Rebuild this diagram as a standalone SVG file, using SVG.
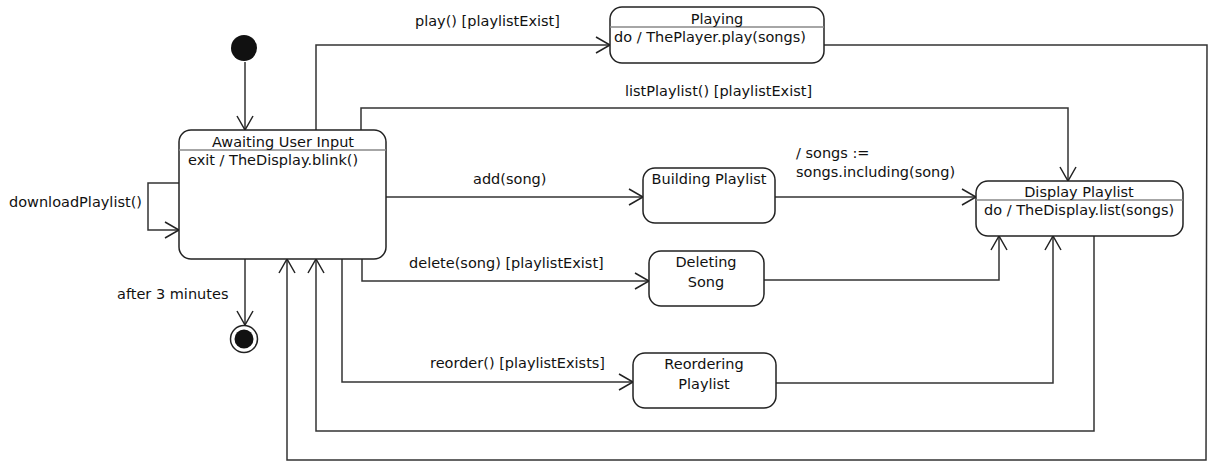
<svg xmlns="http://www.w3.org/2000/svg" width="1210" height="461" viewBox="0 0 1210 461">
<style>
text{font-family:"DejaVu Sans","Noto Sans",sans-serif;font-size:14.5px;fill:#111}
.c{text-anchor:middle}
.box{fill:#fff;stroke:#222;stroke-width:1.5}
.div{stroke:#888;stroke-width:1.5}
.ln{fill:none;stroke:#333;stroke-width:1.5;marker-end:url(#arr)}
</style>
<defs>
<marker id="arr" markerUnits="userSpaceOnUse" markerWidth="18" markerHeight="20" refX="15" refY="9" orient="auto" overflow="visible">
<path d="M1,1 L15,9 L1,17" fill="none" stroke="#222" stroke-width="1.5"/>
</marker>
</defs>
<rect width="1210" height="461" fill="#fff"/>
<g id="connectors">
<path class="ln" d="M245,62 L245,130"/>
<path class="ln" d="M179,183 L148,183 L148,230 L179,230"/>
<path class="ln" d="M316,130 L316,45 L610,45"/>
<path class="ln" d="M361,130 L361,108 L1068,108 L1068,181"/>
<path class="ln" d="M386,197 L643,197"/>
<path class="ln" d="M775,197 L976,197"/>
<path class="ln" d="M362,259 L362,281 L649,281"/>
<path class="ln" d="M764,280 L999,280 L999,236"/>
<path class="ln" d="M342,259 L342,382 L633,382"/>
<path class="ln" d="M776,383 L1053,383 L1053,236"/>
<path class="ln" d="M1094,236 L1094,431 L316,431 L316,259"/>
<path class="ln" d="M824,45 L1207,45 L1206,460 L287,460 L287,259"/>
<path class="ln" d="M245,259 L245,325"/>
<text x="415" y="26">play() [playlistExist]</text>
<text x="625" y="96">listPlaylist() [playlistExist]</text>
<text x="9" y="207">downloadPlaylist()</text>
<text x="473" y="184">add(song)</text>
<text x="796" y="158">/ songs :=</text>
<text x="796" y="177">songs.including(song)</text>
<text x="409" y="268">delete(song) [playlistExist]</text>
<text x="430" y="368">reorder() [playlistExists]</text>
<text x="117" y="299">after 3 minutes</text>
</g>
<g id="initial">
<circle cx="244" cy="48" r="13" fill="#111"/>
</g>
<g id="final">
<circle cx="244" cy="339" r="13.5" fill="#fff" stroke="#222" stroke-width="1.5"/>
<circle cx="244" cy="339" r="9.5" fill="#111"/>
</g>
<g id="awaiting">
<rect class="box" x="179" y="130" width="207" height="129" rx="12"/>
<line class="div" x1="179" y1="150" x2="386" y2="150"/>
<text class="c" x="283" y="147">Awaiting User Input</text>
<text x="188" y="165">exit / TheDisplay.blink()</text>
</g>
<g id="playing">
<rect class="box" x="610" y="7" width="214" height="56" rx="12"/>
<line class="div" x1="610" y1="27" x2="824" y2="27"/>
<text class="c" x="717" y="24">Playing</text>
<text x="614" y="42">do / ThePlayer.play(songs)</text>
</g>
<g id="building">
<rect class="box" x="643" y="168" width="132" height="55" rx="12"/>
<text class="c" x="709" y="184">Building Playlist</text>
</g>
<g id="display">
<rect class="box" x="976" y="181" width="207" height="55" rx="12"/>
<line class="div" x1="976" y1="200" x2="1183" y2="200"/>
<text class="c" x="1079" y="197">Display Playlist</text>
<text x="984" y="215">do / TheDisplay.list(songs)</text>
</g>
<g id="deleting">
<rect class="box" x="649" y="251" width="115" height="55" rx="12"/>
<text class="c" x="706" y="267">Deleting</text>
<text class="c" x="706" y="287">Song</text>
</g>
<g id="reordering">
<rect class="box" x="633" y="353" width="143" height="55" rx="12"/>
<text class="c" x="704" y="369">Reordering</text>
<text class="c" x="704" y="389">Playlist</text>
</g>
</svg>
